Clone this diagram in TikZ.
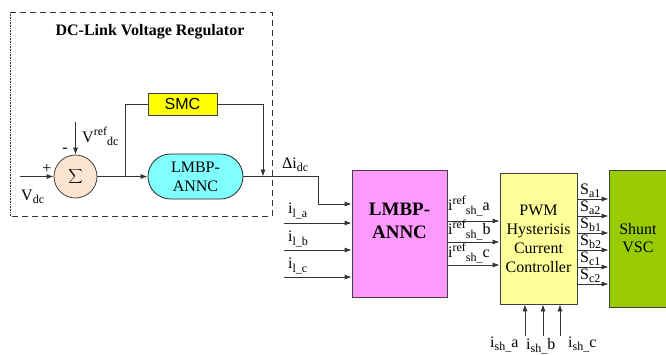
\documentclass[tikz,border=0pt]{standalone}
\usepackage{fontspec}
\setmainfont{Liberation Serif}
\newfontfamily\arialf{Liberation Sans}
\usetikzlibrary{arrows.meta,shapes.misc}
\newcommand\lo[1]{\raisebox{-3.5pt}{\fontsize{12}{12}\selectfont #1}}
\newcommand\hi[1]{\raisebox{6.5pt}{\fontsize{12}{12}\selectfont #1}}
\definecolor{peach}{RGB}{253,228,208}
\definecolor{cyanbox}{RGB}{128,255,255}
\definecolor{pinkbox}{RGB}{255,153,255}
\definecolor{pwmbox}{RGB}{255,255,153}
\definecolor{vscbox}{RGB}{153,204,0}
\definecolor{smcbox}{RGB}{255,255,0}
\begin{document}
\begin{tikzpicture}[x=1pt,y=-1pt,font=\fontsize{16}{19}\selectfont,
  line/.style={draw=black!80,line width=0.8pt},
  arr/.style={line,-{Latex[length=7pt,width=5pt]}},
  box/.style={draw=black!75,line width=0.8pt,inner sep=0pt,align=center},
  lbl/.style={inner sep=0pt}]
\useasboundingbox (0,0) rectangle (666,354);
% dashed regulator frame
\draw[black!80,line width=0.8pt,dash pattern=on 6pt off 4pt] (10,12) -- (272,12) -- (272,216) -- (10,216);
\draw[black!80,line width=0.6pt,densely dotted] (10,12) -- (10,216);
\node[lbl,font=\bfseries\fontsize{16}{19}\selectfont] (title) at (150,32) {DC-Link Voltage Regulator};
% blocks
\node[box,fill=smcbox,minimum width=69pt,minimum height=22pt,font=\arialf\fontsize{16}{19}\selectfont] (smc) at (182.5,104) {SMC};
\node[circle,draw=black!75,line width=0.8pt,fill=peach,minimum size=43pt,inner sep=0pt] (sum) at (75.5,176.5) {\fontsize{17}{17}\selectfont$\displaystyle\sum$};
\node[rounded rectangle,draw=black!85,line width=0.8pt,fill=cyanbox,minimum width=95pt,minimum height=45pt,inner sep=0pt,align=center] (ann1) at (195.5,176.5) {LMBP-\\ANNC};
\node[box,fill=pinkbox,minimum width=95pt,minimum height=127pt] (ann2) at (399.5,233.5) {};
\node[lbl,align=center,font=\bfseries\fontsize{19}{23}\selectfont] (ann2t) at (399.5,221) {LMBP-\\ANNC};
\node[box,fill=pwmbox,minimum width=77pt,minimum height=131pt] (pwm) at (538.5,238.5) {PWM\\Hysterisis\\Current\\Controller};
\node[box,fill=vscbox,minimum width=58pt,minimum height=137pt,font=\fontsize{16}{18}\selectfont] (vsc) at (638,238.5) {Shunt\\VSC};
% regulator wiring
\coordinate (vdcin) at (20,176.5);
\coordinate (vrefin) at (75.5,122);
\coordinate (br1) at (125,176.5);
\coordinate (j2) at (263,176.5);
\coordinate (bend) at (318,204);
\draw[arr] (vdcin) -- (sum);
\draw[arr] (vrefin) -- (sum);
\draw[arr] (sum) -- (ann1);
\draw[line] (br1) |- (smc);
\draw[arr] (smc) -| (j2);
\draw[arr] (ann1) -| (bend) -- (ann2.west |- bend);
\node[lbl] (plus) at (47,169) {+};
\node[lbl] (minus) at (65,150) {-};
\node[lbl,anchor=south west] (vdc) at (21,204) {V\lo{dc}};
\node[lbl,anchor=south west] (vref) at (82,146) {V\hi{ref}\lo{dc}};
\node[lbl,anchor=south west] (didc) at (282,172) {Δi\lo{dc}};
% load current inputs
\coordinate (ila) at (284,223);
\coordinate (ilb) at (284,250);
\coordinate (ilc) at (284,277);
\draw[arr] (ila) -- (ann2.west |- ila);
\draw[arr] (ilb) -- (ann2.west |- ilb);
\draw[arr] (ilc) -- (ann2.west |- ilc);
\node[lbl,anchor=south west] (lila) at (288,219) {i\lo{l\_a}};
\node[lbl,anchor=south west] (lilb) at (288,247) {i\lo{l\_b}};
\node[lbl,anchor=south west] (lilc) at (288,274) {i\lo{l\_c}};
% reference currents
\coordinate (ra) at (447,221);
\coordinate (rb) at (447,242);
\coordinate (rc) at (447,265);
\draw[arr] (ra) -- (pwm.west |- ra);
\draw[arr] (rb) -- (pwm.west |- rb);
\draw[arr] (rc) -- (pwm.west |- rc);
\node[lbl,anchor=south west] (lra) at (448,216) {i\hi{ref}\lo{sh\_}a};
\node[lbl,anchor=south west] (lrb) at (448,240) {i\hi{ref}\lo{sh\_}b};
\node[lbl,anchor=south west] (lrc) at (448,263) {i\hi{ref}\lo{sh\_}c};
% switching signals
\foreach \n/\yy/\t in {1/199/a1,2/216/a2,3/233/b1,4/250/b2,5/267/c1,6/284/c2}{
  \coordinate (s\n) at (577,\yy);
  \draw[arr] (s\n) -- (vsc.west |- s\n);
  \node[lbl,anchor=south west] (ls\n) at (580,\yy-1) {S\lo{\t}};
}
% measured shunt currents
\coordinate (sha) at (525,336);
\coordinate (shb) at (543,336);
\coordinate (shc) at (560,336);
\draw[arr] (sha) -- (pwm.south -| sha);
\draw[arr] (shb) -- (pwm.south -| shb);
\draw[arr] (shc) -- (pwm.south -| shc);
\node[lbl,anchor=base west] (lsha) at (490,347) {i\lo{sh\_}a};
\node[lbl,anchor=base west] (lshb) at (526,349) {i\lo{sh\_}b};
\node[lbl,anchor=base west] (lshc) at (568,347) {i\lo{sh\_}c};
\end{tikzpicture}
\end{document}
